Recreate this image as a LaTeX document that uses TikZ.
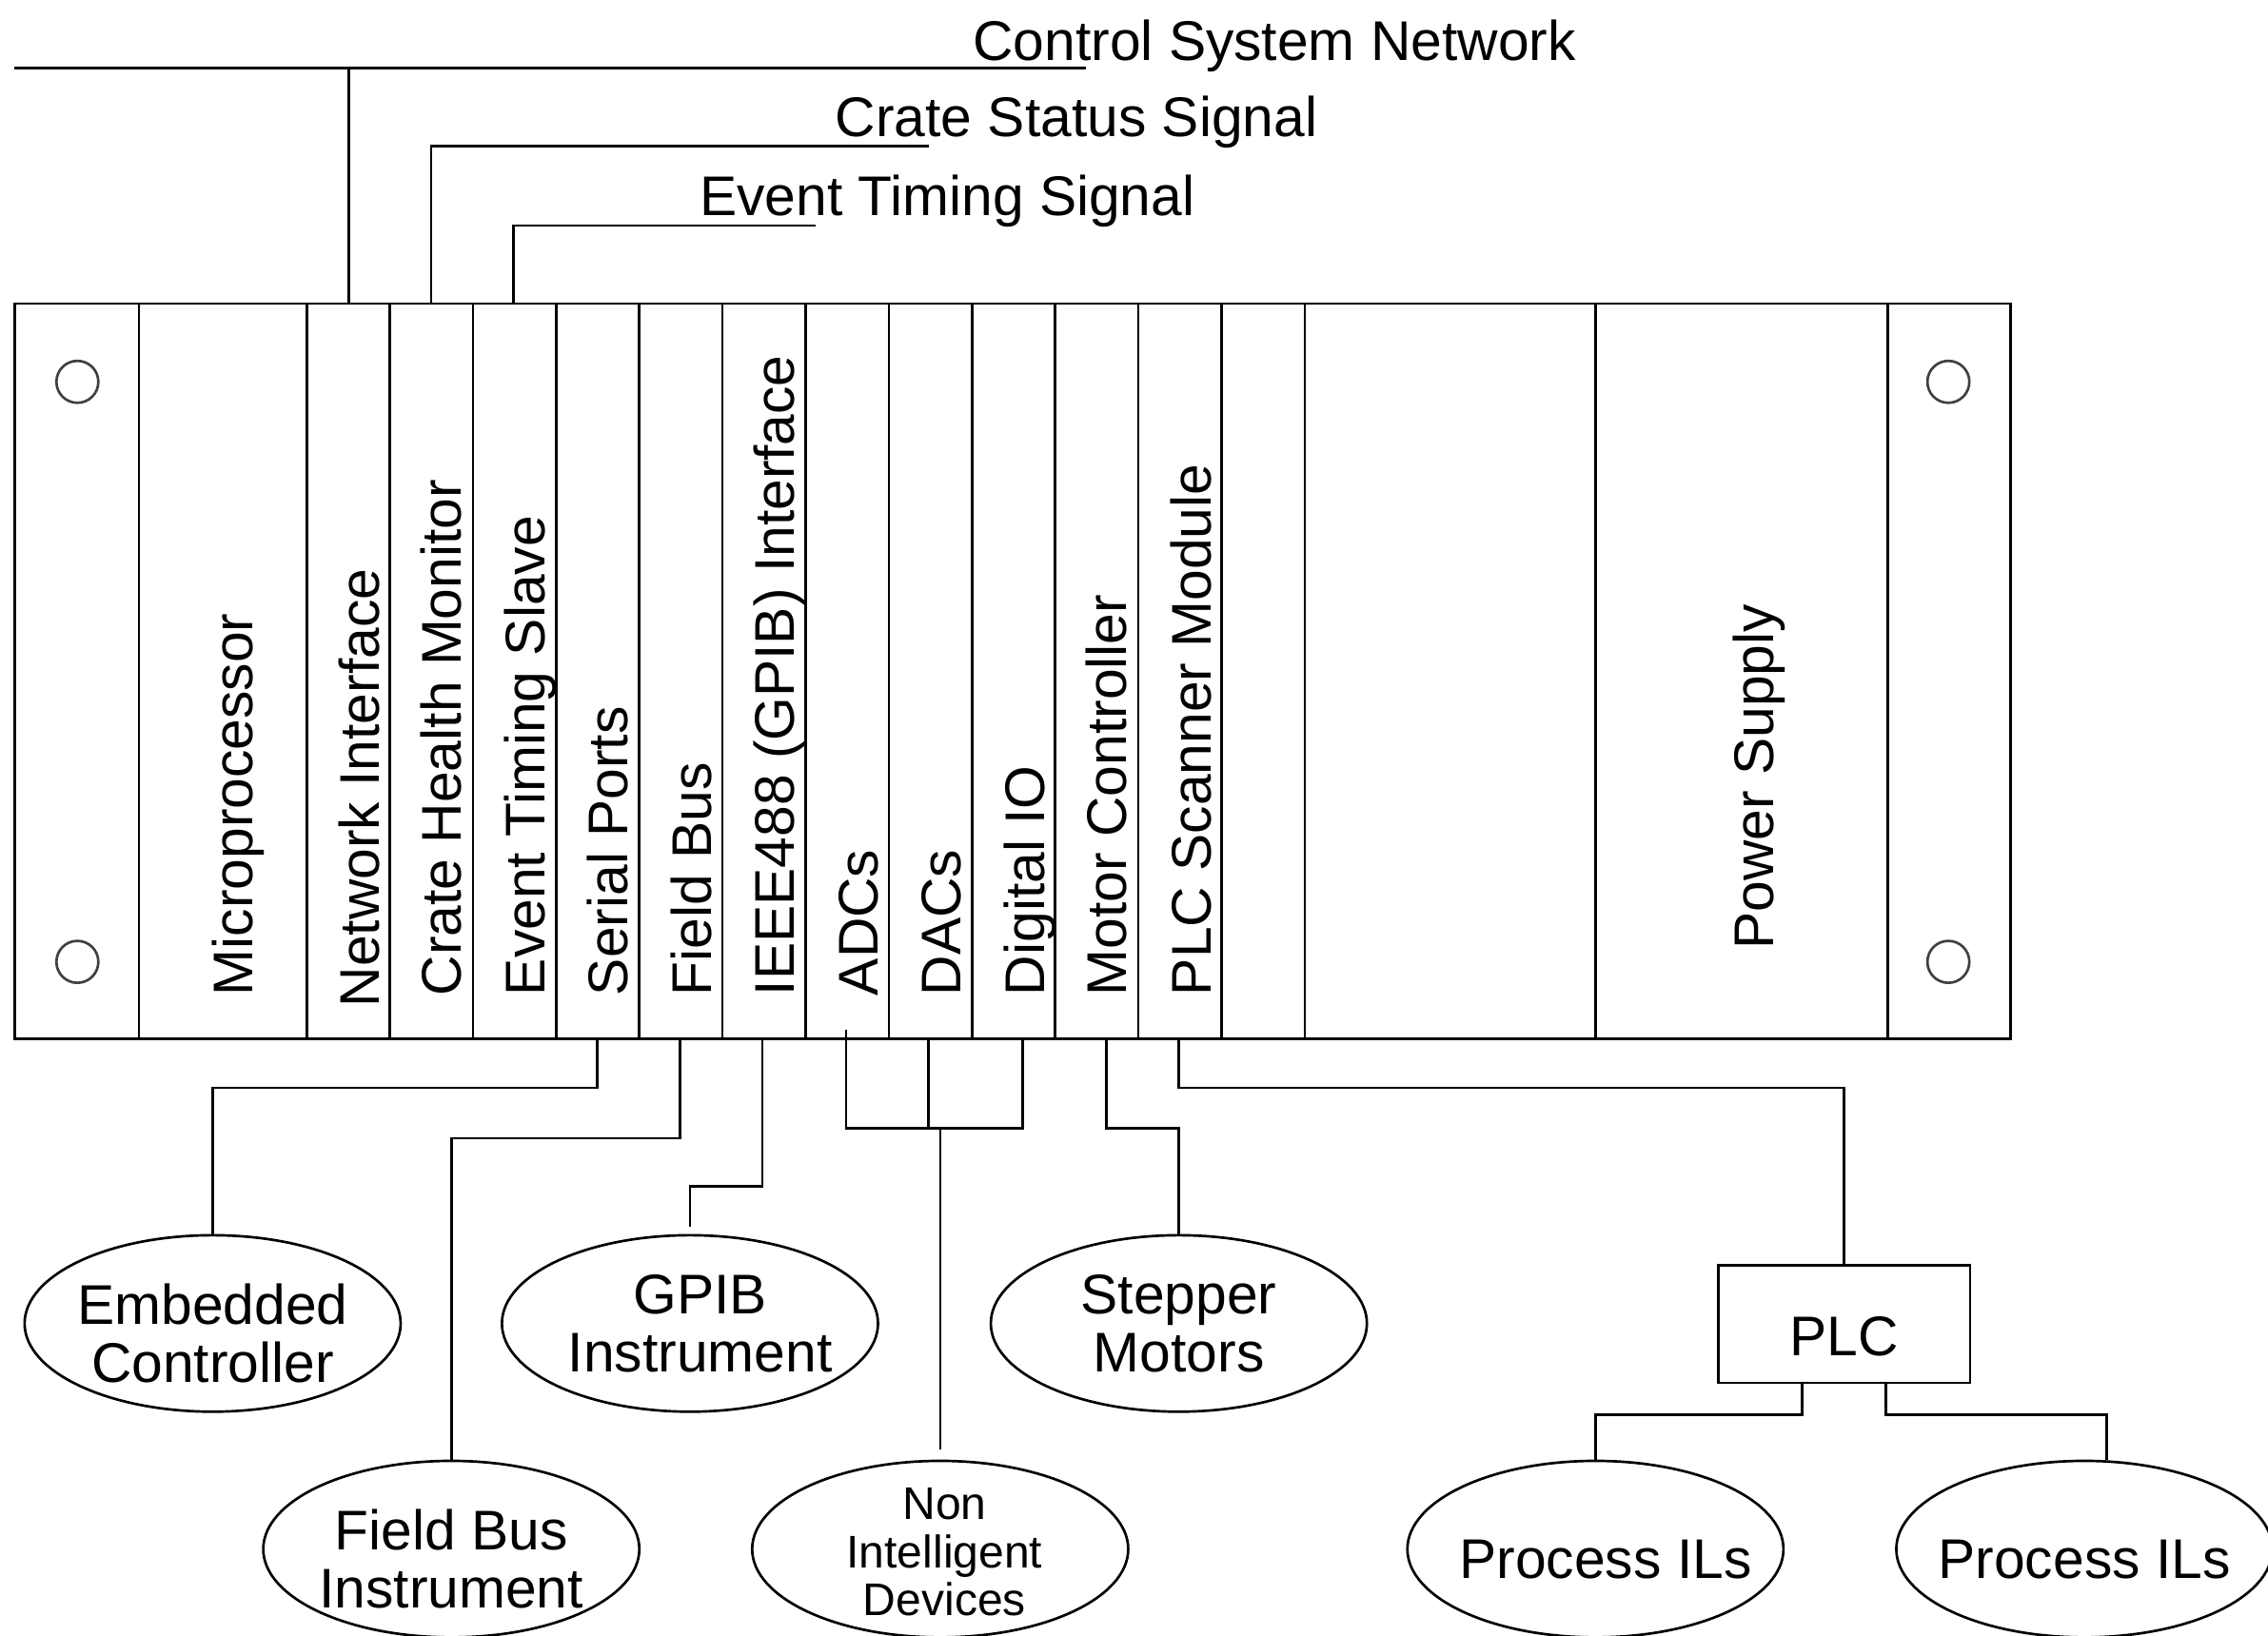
\documentclass[tikz,border=0pt]{standalone}
\usepackage{fontspec}
\setmainfont{Liberation Sans}
\usepackage{tikz}
\usetikzlibrary{shapes.geometric}

\begin{document}
\begin{tikzpicture}[
    wire/.style={line width=0.5pt},
    slotlabel/.style={rotate=90, anchor=base west, inner sep=0pt,
      font=\fontsize{11}{13}\selectfont},
    signal/.style={anchor=base west, inner sep=0pt,
      font=\fontsize{11}{13}\selectfont},
    device/.style={draw, ellipse, line width=0.5pt, minimum width=2.6cm,
      minimum height=1.22cm, inner sep=0pt},
    devtext/.style={align=center, inner sep=0pt,
      font=\fontsize{11}{11.4}\selectfont}
]
  \useasboundingbox (0,0) rectangle (15.68,11.31);

  % Crate mit Steckplaetzen
  \draw[wire] (0.10,4.13) rectangle (13.90,9.21);
  \draw[wire] (0.96,4.13) -- (0.96,9.21)
    (2.12,4.13) -- (2.12,9.21)
    (2.695,4.13) -- (2.695,9.21)
    (3.27,4.13) -- (3.27,9.21)
    (3.845,4.13) -- (3.845,9.21)
    (4.42,4.13) -- (4.42,9.21)
    (4.995,4.13) -- (4.995,9.21)
    (5.57,4.13) -- (5.57,9.21)
    (6.145,4.13) -- (6.145,9.21)
    (6.72,4.13) -- (6.72,9.21)
    (7.295,4.13) -- (7.295,9.21)
    (7.87,4.13) -- (7.87,9.21)
    (8.445,4.13) -- (8.445,9.21)
    (9.02,4.13) -- (9.02,9.21)
    (11.03,4.13) -- (11.03,9.21)
    (13.05,4.13) -- (13.05,9.21);

  % Befestigungsloecher
  \draw[wire, black!75] (0.535,8.67) circle (0.145) (0.535,4.66) circle (0.145);
  \draw[wire, black!75] (13.47,8.67) circle (0.145) (13.47,4.66) circle (0.145);

  % Module
  \node[slotlabel] (micro) at (1.75,4.42) {Microprocessor};
  \node[slotlabel] (netif) at (2.62,4.34) {Network Interface};
  \node[slotlabel] (health) at (3.19,4.42) {Crate Health Monitor};
  \node[slotlabel] (evslave) at (3.77,4.42) {Event Timing Slave};
  \node[slotlabel] (serial) at (4.34,4.42) {Serial Ports};
  \node[slotlabel] (fieldbus) at (4.92,4.42) {Field Bus};
  \node[slotlabel] (ieee) at (5.49,4.42) {IEEE488 (GPIB) Interface};
  \node[slotlabel] (adcs) at (6.07,4.42) {ADCs};
  \node[slotlabel] (dacs) at (6.64,4.42) {DACs};
  \node[slotlabel] (dio) at (7.22,4.42) {Digital IO};
  \node[slotlabel] (motor) at (7.79,4.42) {Motor Controller};
  \node[slotlabel] (plcscan) at (8.37,4.42) {PLC Scanner Module};
  \node[slotlabel] (power) at (12.26,4.74) {Power Supply};

  % Anschluesse oben und unten
  \coordinate (netport) at (2.41,9.21);
  \coordinate (healthport) at (2.98,9.21);
  \coordinate (evport) at (3.55,9.21);
  \coordinate (serport) at (4.13,4.13);
  \coordinate (fbport) at (4.70,4.13);
  \coordinate (ieeeport) at (5.27,4.13);
  \coordinate (adcport) at (5.85,4.19);
  \coordinate (dacport) at (6.42,4.13);
  \coordinate (dioport) at (7.07,4.13);
  \coordinate (motorport) at (7.65,4.13);
  \coordinate (plcport) at (8.15,4.13);

  % Signale oben
  \node[signal] (csn) at (6.72,10.894) {Control System Network};
  \node[signal] (css) at (5.77,10.367) {Crate Status Signal};
  \node[signal] (ets) at (4.83,9.82) {Event Timing Signal};
  \coordinate (csnend) at (7.51,10.84);
  \coordinate (cssend) at (6.42,10.30);
  \coordinate (etsend) at (5.64,9.75);
  \draw[wire] (0.10,10.84) -- (csnend);
  \draw[wire] (netport) -- (netport |- csnend);
  \draw[wire] (healthport) |- (cssend);
  \draw[wire] (evport) |- (etsend);

  % Geraete unten
  \node[device, label={[devtext, yshift=-0.07cm]center:Embedded\\Controller}] (emb) at (1.47,2.16) {};
  \node[device, label={[devtext, xshift=0.07cm]center:GPIB\\Instrument}] (gpib) at (4.77,2.16) {};
  \node[device, label={[devtext]center:Stepper\\Motors}] (stepper) at (8.15,2.16) {};
  \node[device, label={[devtext, yshift=-0.065cm]center:Field Bus\\Instrument}] (fbi) at (3.12,0.60) {};
  \node[device, label={[devtext, font=\fontsize{9}{9.4}\selectfont, xshift=0.03cm, yshift=-0.02cm]center:Non\\Intelligent\\Devices}] (nid) at (6.50,0.60) {};
  \node[draw, line width=0.5pt, minimum width=1.74cm, minimum height=0.81cm,
    label={[devtext, yshift=-0.085cm]center:PLC}] (plc) at (12.75,2.155) {};
  \node[device, label={[devtext, xshift=0.07cm, yshift=-0.07cm]center:Process ILs}] (pil1) at (11.03,0.60) {};
  \node[device, label={[devtext, yshift=-0.07cm]center:Process ILs}] (pil2) at (14.41,0.60) {};

  % Verbindungen
  \draw[wire] (serport) -- ++(0,-0.34) -| (emb.north);
  \draw[wire] (fbport) -- ++(0,-0.69) -| (fbi.north);
  \draw[wire, shorten >=0.05cm] (ieeeport) -- ++(0,-1.02) -| (gpib.north);
  \coordinate (iobus) at (6.50,3.51);
  \draw[wire] (adcport) |- (iobus) -| (dioport);
  \draw[wire] (dacport) -- (dacport |- iobus);
  \draw[wire, shorten >=0.07cm] (iobus) -- (nid.north);
  \draw[wire] (motorport) -- ++(0,-0.62) -| (stepper.north);
  \draw[wire] (plcport) -- ++(0,-0.34) -| (plc.north);
  \draw[wire] ([xshift=-0.29cm]plc.south) -- ++(0,-0.21) -| (pil1.north);
  \draw[wire] ([xshift=0.29cm]plc.south) -- ++(0,-0.21) -| (pil2.76);

\end{tikzpicture}
\end{document}
